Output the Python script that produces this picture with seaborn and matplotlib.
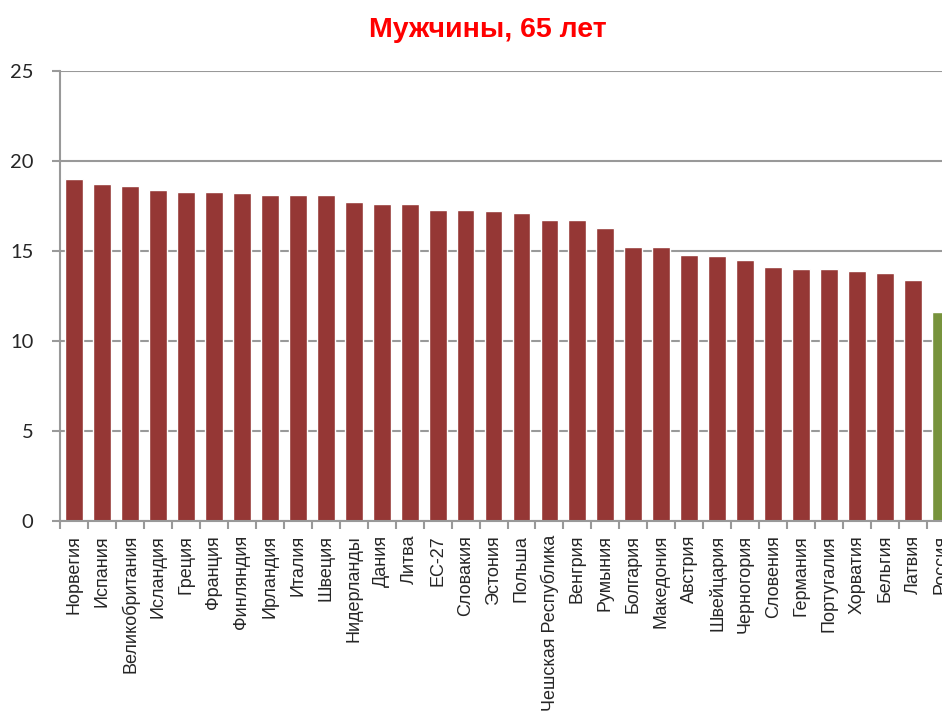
import numpy as np
import pandas as pd
import seaborn as sns
import matplotlib.pyplot as plt

# Data
countries = ['Норвегия', 'Испания', 'Великобритания', 'Исландия', 'Греция', 'Франция',
             'Финляндия', 'Ирландия', 'Италия', 'Швеция', 'Нидерланды', 'Дания', 'Литва',
             'ЕС-27', 'Словакия', 'Эстония', 'Польша', 'Чешская Республика', 'Венгрия',
             'Румыния', 'Болгария', 'Македония', 'Австрия', 'Швейцария', 'Черногория',
             'Словения', 'Германия', 'Португалия', 'Хорватия', 'Бельгия', 'Латвия', 'Россия']
values = [19.0, 18.7, 18.6, 18.4, 18.3, 18.3, 18.2, 18.1, 18.1, 18.1, 17.7, 17.6, 17.6,
          17.3, 17.3, 17.2, 17.1, 16.7, 16.7, 16.3, 15.2, 15.2, 14.8, 14.7, 14.5,
          14.1, 14.0, 14.0, 13.9, 13.8, 13.4, 11.6]
highlight = 'Россия'
y_ticks = [0, 5, 10, 15, 20, 25]

df = pd.DataFrame({'country': countries, 'value': values})
palette = {c: ('#77933C' if c == highlight else '#953735') for c in countries}

sns.set_theme(style="white")
plt.rcParams['font.family'] = ['Liberation Sans', 'DejaVu Sans']

fig = plt.figure(figsize=(9.42, 7.2), dpi=100, facecolor='white')
# axes runs past the right edge, like the cropped original
ax = fig.add_axes([60 / 942, 1 - 521 / 720, 895 / 942, 450 / 720])

sns.barplot(data=df, x='country', y='value', hue='country', palette=palette,
            order=countries, width=0.64, legend=False, ax=ax, saturation=1)

ax.set_ylim(0, 25)
ax.set_yticks(y_ticks)
ax.set_xlim(-0.5, len(countries) - 0.5)
ax.yaxis.grid(True, color='#999999', linewidth=1.5)
ax.set_axisbelow(True)

for s in ['top', 'right']:
    ax.spines[s].set_visible(False)
for s in ['left', 'bottom']:
    ax.spines[s].set_color('#999999')
    ax.spines[s].set_linewidth(1.5)

ax.set_xticks(np.arange(len(countries) + 1) - 0.5, minor=True)
ax.tick_params(axis='x', which='major', length=0, pad=10, labelsize=13, rotation=90)
ax.tick_params(axis='x', which='minor', length=6, width=1.5, color='#999999', bottom=True)
ax.tick_params(axis='y', length=6, width=1.5, color='#999999', left=True, pad=13,
               labelsize=14.5)
for lab in ax.get_yticklabels():
    lab.set_family(['Lato', 'DejaVu Sans'])

ax.set_xlabel('')
ax.set_ylabel('')

fig.text(488 / 942, 1 - 30 / 720, 'Мужчины, 65 лет', color='#FF0000', fontsize=20.5,
         fontweight='bold', ha='center', va='center')

fig.savefig('out.png', dpi=100, facecolor='white')
